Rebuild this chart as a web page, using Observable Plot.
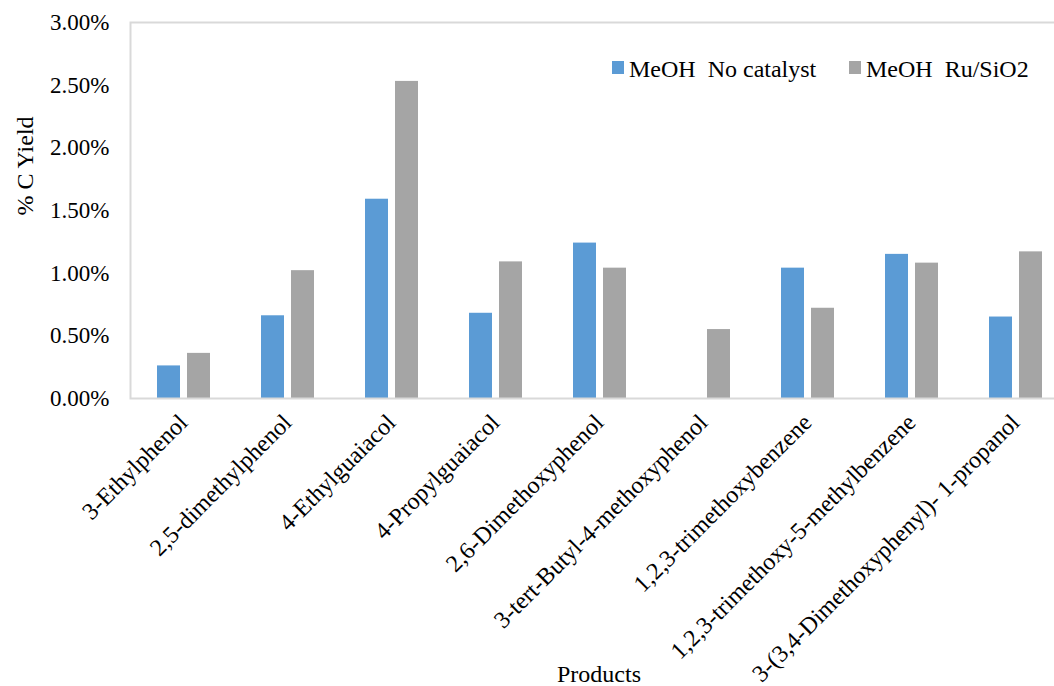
<!DOCTYPE html>
<html>
<head>
<meta charset="utf-8">
<script src="https://cdn.jsdelivr.net/npm/d3@7"></script>
<script src="https://cdn.jsdelivr.net/npm/@observablehq/plot@0.6"></script>
<style>
  html, body { margin: 0; padding: 0; background: #fff; overflow: hidden; }
  #wrap { position: relative; width: 1054px; height: 686px; overflow: hidden; }
  .leg { position: absolute; font-family: "Liberation Serif", "Tinos", "DejaVu Serif", serif; font-size: 24px; line-height: 24px; color: #000; white-space: pre; }
  .sw { position: absolute; width: 12px; height: 13px; }
  svg text { font-family: "Liberation Serif", "Tinos", "DejaVu Serif", serif !important; }
</style>
</head>
<body>
<div id="wrap"></div>
<script>
const products = [
  "3-Ethylphenol",
  "2,5-dimethylphenol",
  "4-Ethylguaiacol",
  "4-Propylguaiacol",
  "2,6-Dimethoxyphenol",
  "3-tert-Butyl-4-methoxyphenol",
  "1,2,3-trimethoxybenzene",
  "1,2,3-trimethoxy-5-methylbenzene",
  "3-(3,4-Dimethoxyphenyl)- 1-propanol"
];
const seriesNames = ["MeOH  No catalyst", "MeOH  Ru/SiO2"];
const noCatalyst = [0.26, 0.66, 1.59, 0.68, 1.24, 0.00, 1.04, 1.15, 0.65];
const ruSiO2 = [0.36, 1.02, 2.53, 1.09, 1.04, 0.55, 0.72, 1.08, 1.17];
const yTicks = [0, 0.5, 1, 1.5, 2, 2.5, 3];
const colors = ["#5B9BD5", "#A5A5A5"];

const rowsA = products.map((p, i) => ({product: p, value: noCatalyst[i]}));
const rowsB = products.map((p, i) => ({product: p, value: ruSiO2[i]}));

const font = '"Liberation Serif", "Tinos", "DejaVu Serif", serif';

const chart = Plot.plot({
  width: 1054,
  height: 686,
  marginLeft: 130,
  marginRight: -13,
  marginTop: 22,
  marginBottom: 288,
  style: {fontFamily: font, fontSize: "23px", color: "#000", background: "#fff"},
  x: {domain: products, padding: 0, label: null},
  y: {domain: [0, 3], label: null},
  marks: [
    Plot.barY(rowsA, {x: "product", y: "value", fill: colors[0], insetLeft: 26, insetRight: 55}),
    Plot.barY(rowsB, {x: "product", y: "value", fill: colors[1], insetLeft: 56, insetRight: 25}),
    Plot.frame({stroke: "#D9D9D9", strokeWidth: 2}),
    Plot.axisY({ticks: yTicks, tickFormat: d => d.toFixed(2) + "%", tickSize: 0, tickPadding: 21, fontSize: 23, label: null}),
    Plot.axisX({tickRotate: -45, tickSize: 0, tickPadding: 20, fontSize: 24, label: null}),
    Plot.text(["% C Yield"], {frameAnchor: "left", rotate: -90, dx: -105, dy: 5, fontSize: 24, lineAnchor: "middle"}),
    Plot.text(["Products"], {frameAnchor: "bottom", dy: 276, fontSize: 24, lineAnchor: "middle"})
  ]
});

const wrap = document.getElementById("wrap");
wrap.appendChild(chart);

const legendPos = [{sw: 612, tx: 629}, {sw: 849, tx: 866}];
seriesNames.forEach((name, i) => {
  const s = document.createElement("div");
  s.className = "sw";
  s.style.left = legendPos[i].sw + "px";
  s.style.top = "61px";
  s.style.background = colors[i];
  wrap.appendChild(s);
  const t = document.createElement("div");
  t.className = "leg";
  t.style.left = legendPos[i].tx + "px";
  t.style.top = "57px";
  t.textContent = name;
  wrap.appendChild(t);
});
</script>
</body>
</html>
